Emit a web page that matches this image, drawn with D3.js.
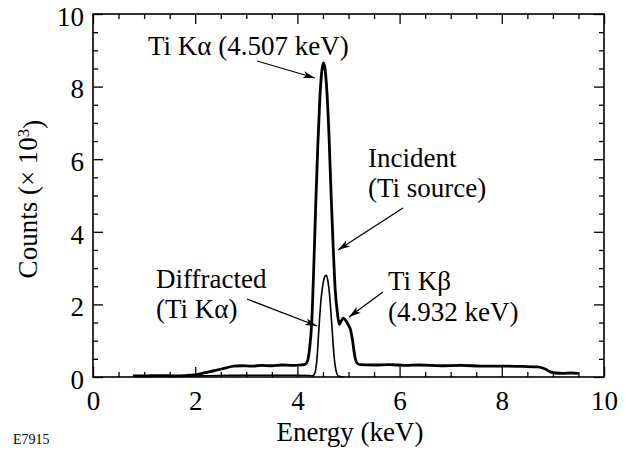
<!DOCTYPE html>
<html>
<head>
<meta charset="utf-8">
<script src="https://cdn.jsdelivr.net/npm/d3@7"></script>
<style>
  body { margin: 0; background: #fff; }
  svg text { font-family: "Liberation Serif", "Times New Roman", serif !important; fill: #000; }
</style>
</head>
<body>
<script>
// incident Ti source spectrum (keV, counts x 10^3)
var incidentE = [0.78, 1.0, 1.3, 1.6, 1.8, 2.0, 2.2, 2.4, 2.6, 2.75, 2.9, 3.1, 3.3, 3.5, 3.7, 3.9, 4.05, 4.15,
  4.2, 4.24, 4.28, 4.32, 4.36, 4.40, 4.44, 4.48, 4.51, 4.54, 4.58, 4.62, 4.66, 4.70, 4.74, 4.78, 4.82,
  4.86, 4.90, 4.95, 5.00, 5.04, 5.08, 5.12, 5.16, 5.22, 5.5, 5.8, 6.1, 6.4, 6.8, 7.2, 7.6, 8.0, 8.4,
  8.7, 8.85, 8.95, 9.05, 9.2, 9.35, 9.5];
var incidentC = [0.03, 0.03, 0.04, 0.03, 0.04, 0.06, 0.12, 0.18, 0.25, 0.30, 0.31, 0.30, 0.32, 0.31, 0.33, 0.32, 0.33, 0.35,
  0.45, 0.8, 1.5, 3.0, 4.8, 6.4, 7.7, 8.45, 8.65, 8.5, 7.8, 6.6, 5.0, 3.6, 2.4, 1.8, 1.45,
  1.55, 1.62, 1.55, 1.42, 1.3, 1.0, 0.6, 0.4, 0.34, 0.33, 0.34, 0.32, 0.33, 0.31, 0.32, 0.30, 0.30, 0.29,
  0.28, 0.22, 0.14, 0.11, 0.10, 0.11, 0.10];

// diffracted Ti K-alpha
var diffractedE = [0.8, 1.5, 2.0, 2.5, 3.0, 3.5, 4.0, 4.25, 4.30, 4.34, 4.38, 4.42, 4.46, 4.50, 4.53, 4.56,
  4.59, 4.62, 4.65, 4.68, 4.71, 4.74, 4.77, 4.80, 4.9];
var diffractedC = [0.02, 0.02, 0.03, 0.04, 0.05, 0.05, 0.05, 0.04, 0.03, 0.1, 0.45, 1.3, 2.1, 2.55, 2.75, 2.8,
  2.7, 2.4, 1.9, 1.3, 0.7, 0.3, 0.1, 0.03, 0.0];

var xMajor = [0, 2, 4, 6, 8, 10];
var yMajor = [0, 2, 4, 6, 8, 10];
var minorStep = 0.5;

var width = 630, height = 451;
var margin = {top: 14, right: 26, bottom: 74, left: 93};
var w = width - margin.left - margin.right,
    h = height - margin.top - margin.bottom;
var serif = "Liberation Serif, Times New Roman, serif";
var fs = "27px";

var svg = d3.select("body").append("svg")
    .attr("width", width)
    .attr("height", height);

var g = svg.append("g")
    .attr("transform", "translate(" + margin.left + "," + margin.top + ")");

var x = d3.scaleLinear().domain([0, 10]).range([0, w]);
var y = d3.scaleLinear().domain([0, 10]).range([h, 0]);

var minors = d3.range(0, 10 + 1e-9, minorStep).filter(function(v) { return v % 2 !== 0; });

function styleAxis(sel) {
  sel.attr("font-family", serif).attr("font-size", fs);
  sel.select(".domain").remove();
  sel.selectAll(".tick line").attr("stroke", "#000").attr("stroke-width", 1.3);
}

// major + minor ticks, all inward, on all four sides
g.append("g").attr("transform", "translate(0," + h + ")")
  .call(d3.axisBottom(x).tickValues(xMajor).tickSize(-10).tickPadding(14).tickFormat(d3.format("d")))
  .call(styleAxis);
g.append("g").attr("transform", "translate(0," + h + ")")
  .call(d3.axisBottom(x).tickValues(minors).tickSize(-5).tickFormat(""))
  .call(styleAxis);
g.append("g")
  .call(d3.axisTop(x).tickValues(xMajor).tickSize(-10).tickFormat(""))
  .call(styleAxis);
g.append("g")
  .call(d3.axisTop(x).tickValues(minors).tickSize(-5).tickFormat(""))
  .call(styleAxis);

g.append("g")
  .call(d3.axisLeft(y).tickValues(yMajor).tickSize(-10).tickPadding(9).tickFormat(d3.format("d")))
  .call(styleAxis)
  .selectAll("text").attr("dy", "0.42em");
g.append("g")
  .call(d3.axisLeft(y).tickValues(minors).tickSize(-5).tickFormat(""))
  .call(styleAxis);
g.append("g").attr("transform", "translate(" + w + ",0)")
  .call(d3.axisRight(y).tickValues(yMajor).tickSize(-10).tickFormat(""))
  .call(styleAxis);
g.append("g").attr("transform", "translate(" + w + ",0)")
  .call(d3.axisRight(y).tickValues(minors).tickSize(-5).tickFormat(""))
  .call(styleAxis);

g.append("rect")
  .attr("width", w).attr("height", h)
  .attr("fill", "none").attr("stroke", "#000").attr("stroke-width", 1.6);

var line = d3.line()
  .x(function(d) { return x(d[0]); })
  .y(function(d) { return y(d[1]); })
  .curve(d3.curveMonotoneX);

g.append("path")
  .datum(d3.zip(diffractedE, diffractedC))
  .attr("d", line)
  .attr("fill", "none").attr("stroke", "#000").attr("stroke-width", 1.6);

g.append("path")
  .datum(d3.zip(incidentE, incidentC))
  .attr("d", line)
  .attr("fill", "none").attr("stroke", "#000").attr("stroke-width", 2.8)
  .attr("stroke-linejoin", "round");

// arrows
svg.append("defs").append("marker")
  .attr("id", "head")
  .attr("viewBox", "0 0 12 10")
  .attr("refX", 12).attr("refY", 5)
  .attr("markerWidth", 12).attr("markerHeight", 10)
  .attr("markerUnits", "userSpaceOnUse")
  .attr("orient", "auto")
  .append("path").attr("d", "M0,1.5 L12,5 L0,8.5 L3,5 Z").attr("fill", "#000");

var arrows = [
  [257, 61, 315, 78],
  [403, 208, 338, 250],
  [383, 292, 349, 317],
  [247, 299, 317, 326]
];
svg.selectAll(".arrow").data(arrows).enter().append("line")
  .attr("class", "arrow")
  .attr("x1", function(d) { return d[0]; }).attr("y1", function(d) { return d[1]; })
  .attr("x2", function(d) { return d[2]; }).attr("y2", function(d) { return d[3]; })
  .attr("stroke", "#000").attr("stroke-width", 1.3)
  .attr("marker-end", "url(#head)");

var labels = [
  ["Ti K\u03b1 (4.507 keV)", 148, 55],
  ["Incident", 368, 167],
  ["(Ti source)", 368, 197],
  ["Ti K\u03b2", 388, 290],
  ["(4.932 keV)", 388, 321],
  ["Diffracted", 156, 288],
  ["(Ti K\u03b1)", 156, 318]
];
svg.selectAll(".lab").data(labels).enter().append("text")
  .attr("class", "lab")
  .attr("x", function(d) { return d[1]; })
  .attr("y", function(d) { return d[2]; })
  .attr("font-family", serif).attr("font-size", fs)
  .text(function(d) { return d[0]; });

// axis titles
svg.append("text")
  .attr("x", 350).attr("y", 441)
  .attr("text-anchor", "middle")
  .attr("font-family", serif).attr("font-size", fs)
  .text("Energy (keV)");

var yl = svg.append("text")
  .attr("transform", "translate(37,199) rotate(-90)")
  .attr("text-anchor", "middle")
  .attr("font-family", serif).attr("font-size", fs);
yl.append("tspan").text("Counts (\u00d7 10");
yl.append("tspan").attr("dy", "-0.45em").attr("font-size", "17px").text("3");
yl.append("tspan").attr("dy", "0.45em").text(")");

svg.append("text")
  .attr("x", 13).attr("y", 444)
  .attr("font-family", serif).attr("font-size", "14px")
  .text("E7915");
</script>
</body>
</html>
